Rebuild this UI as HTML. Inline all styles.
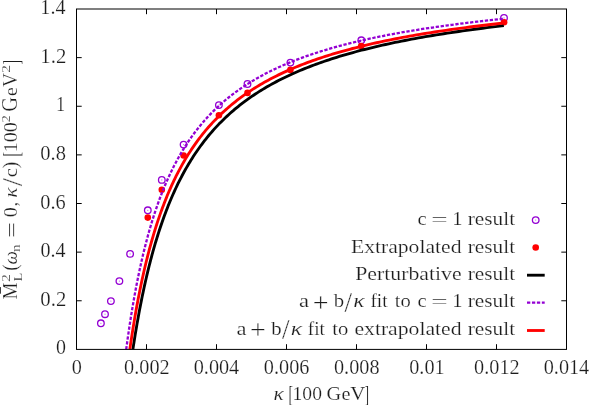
<!DOCTYPE html>
<html><head><meta charset="utf-8"><title>plot</title>
<style>
html,body{margin:0;padding:0;background:#fff;}
body{width:589px;height:405px;overflow:hidden;font-family:"Liberation Serif",serif;}
svg{display:block;will-change:transform;}
</style></head>
<body>
<svg width="589" height="405" viewBox="0 0 589 405">
<rect width="589" height="405" fill="#fff"/>
<g fill="none" stroke="#9400d3" stroke-width="1.3">
<circle cx="100.9" cy="323.3" r="3.3"/>
<circle cx="105.0" cy="314.2" r="3.3"/>
<circle cx="110.9" cy="301.1" r="3.3"/>
<circle cx="119.4" cy="281.1" r="3.3"/>
<circle cx="130.1" cy="253.9" r="3.3"/>
<circle cx="147.8" cy="210.3" r="3.3"/>
<circle cx="161.8" cy="179.9" r="3.3"/>
<circle cx="183.6" cy="144.6" r="3.3"/>
<circle cx="218.9" cy="105.1" r="3.3"/>
<circle cx="247.5" cy="84.0" r="3.3"/>
<circle cx="290.4" cy="62.6" r="3.3"/>
<circle cx="361.3" cy="40.3" r="3.3"/>
<circle cx="504.0" cy="17.9" r="3.3"/>
</g>
<g fill="#9400d3" fill-opacity="0.6">
<circle cx="100.9" cy="323.3" r="0.6"/>
<circle cx="105.0" cy="314.2" r="0.6"/>
<circle cx="110.9" cy="301.1" r="0.6"/>
<circle cx="119.4" cy="281.1" r="0.6"/>
<circle cx="130.1" cy="253.9" r="0.6"/>
<circle cx="147.8" cy="210.3" r="0.6"/>
<circle cx="161.8" cy="179.9" r="0.6"/>
<circle cx="183.6" cy="144.6" r="0.6"/>
<circle cx="218.9" cy="105.1" r="0.6"/>
<circle cx="247.5" cy="84.0" r="0.6"/>
<circle cx="290.4" cy="62.6" r="0.6"/>
<circle cx="361.3" cy="40.3" r="0.6"/>
<circle cx="504.0" cy="17.9" r="0.6"/>
</g>
<g fill="#ff0000">
<circle cx="147.8" cy="217.6" r="3.3"/>
<circle cx="161.8" cy="189.7" r="3.3"/>
<circle cx="183.6" cy="155.5" r="3.3"/>
<circle cx="218.9" cy="115.2" r="3.3"/>
<circle cx="247.5" cy="92.9" r="3.3"/>
<circle cx="290.4" cy="69.9" r="3.3"/>
<circle cx="361.2" cy="46.0" r="3.3"/>
<circle cx="504.1" cy="22.3" r="3.3"/>
</g>
<g fill="none" stroke-linejoin="round">
<path d="M132.89,349.40 L133.46,345.64 L134.04,341.92 L134.63,338.24 L135.22,334.60 L135.82,330.99 L136.42,327.41 L137.03,323.88 L137.65,320.38 L138.27,316.91 L138.90,313.48 L139.53,310.09 L140.18,306.73 L140.82,303.40 L141.48,300.10 L142.14,296.84 L142.81,293.61 L143.48,290.42 L144.16,287.26 L144.85,284.12 L145.55,281.02 L146.25,277.96 L146.96,274.92 L147.68,271.91 L148.40,268.93 L149.13,265.99 L149.87,263.07 L150.62,260.18 L151.38,257.32 L152.14,254.49 L152.91,251.69 L153.68,248.92 L154.47,246.17 L155.26,243.46 L156.07,240.77 L156.88,238.10 L157.69,235.47 L158.52,232.86 L159.35,230.27 L160.20,227.72 L161.05,225.19 L161.91,222.68 L162.78,220.20 L163.66,217.74 L164.55,215.31 L165.44,212.91 L166.35,210.52 L167.26,208.16 L168.18,205.83 L169.12,203.52 L170.06,201.23 L171.01,198.97 L171.97,196.72 L172.95,194.51 L173.93,192.31 L174.92,190.13 L175.92,187.98 L176.93,185.85 L177.96,183.74 L178.99,181.65 L180.03,179.58 L181.09,177.54 L182.15,175.51 L183.22,173.51 L184.31,171.52 L185.41,169.55 L186.52,167.61 L187.64,165.68 L188.77,163.78 L189.91,161.89 L191.06,160.02 L192.23,158.17 L193.41,156.34 L194.60,154.53 L195.80,152.73 L197.02,150.96 L198.24,149.20 L199.48,147.46 L200.73,145.74 L202.00,144.03 L203.27,142.34 L204.56,140.67 L205.87,139.02 L207.18,137.38 L208.51,135.76 L209.86,134.15 L211.22,132.56 L212.59,130.99 L213.97,129.43 L215.37,127.89 L216.78,126.37 L218.21,124.86 L219.65,123.36 L221.11,121.88 L222.58,120.42 L224.07,118.97 L225.57,117.53 L227.09,116.11 L228.62,114.70 L230.17,113.31 L231.74,111.93 L233.32,110.56 L234.91,109.21 L236.52,107.88 L238.15,106.55 L239.80,105.24 L241.46,103.94 L243.14,102.66 L244.83,101.39 L246.55,100.13 L248.28,98.88 L250.03,97.65 L251.79,96.43 L253.58,95.22 L255.38,94.02 L257.20,92.84 L259.04,91.67 L260.90,90.50 L262.77,89.36 L264.67,88.22 L266.59,87.09 L268.52,85.98 L270.47,84.87 L272.45,83.78 L274.44,82.70 L276.46,81.63 L278.49,80.57 L280.55,79.52 L282.63,78.48 L284.72,77.45 L286.84,76.44 L288.98,75.43 L291.15,74.43 L293.33,73.45 L295.54,72.47 L297.77,71.50 L300.02,70.54 L302.29,69.60 L304.59,68.66 L306.91,67.73 L309.26,66.81 L311.63,65.90 L314.02,65.00 L316.44,64.10 L318.88,63.22 L321.35,62.35 L323.84,61.48 L326.36,60.63 L328.90,59.78 L331.47,58.94 L334.06,58.11 L336.69,57.28 L339.33,56.47 L342.01,55.66 L344.71,54.87 L347.44,54.08 L350.20,53.29 L352.99,52.52 L355.80,51.75 L358.64,50.99 L361.51,50.24 L364.41,49.50 L367.35,48.76 L370.31,48.04 L373.30,47.31 L376.32,46.60 L379.37,45.89 L382.45,45.19 L385.56,44.50 L388.71,43.82 L391.89,43.14 L395.10,42.47 L398.34,41.80 L401.62,41.14 L404.93,40.49 L408.27,39.85 L411.65,39.21 L415.06,38.57 L418.50,37.95 L421.98,37.33 L425.50,36.72 L429.05,36.11 L432.64,35.51 L436.26,34.91 L439.93,34.32 L443.63,33.74 L447.36,33.16 L451.14,32.59 L454.95,32.03 L458.80,31.47 L462.69,30.91 L466.62,30.36 L470.59,29.82 L474.61,29.28 L478.66,28.75 L482.75,28.22 L486.89,27.70 L491.06,27.19 L495.28,26.67 L499.54,26.17 L503.85,25.67" stroke="#000000" stroke-width="2.85"/>
<path d="M126.20,349.40 L126.74,345.40 L127.29,341.44 L127.83,337.52 L128.39,333.64 L128.95,329.81 L129.52,326.01 L130.09,322.26 L130.67,318.55 L131.26,314.88 L131.85,311.24 L132.45,307.65 L133.05,304.09 L133.67,300.57 L134.28,297.09 L134.91,293.65 L135.54,290.24 L136.18,286.87 L136.82,283.54 L137.48,280.24 L138.14,276.98 L138.80,273.75 L139.48,270.55 L140.16,267.39 L140.85,264.27 L141.54,261.18 L142.25,258.12 L142.96,255.09 L143.68,252.10 L144.40,249.13 L145.14,246.20 L145.88,243.31 L146.63,240.44 L147.39,237.60 L148.15,234.79 L148.93,232.02 L149.71,229.27 L150.50,226.55 L151.30,223.86 L152.11,221.20 L152.93,218.57 L153.76,215.97 L154.59,213.39 L155.44,210.84 L156.29,208.32 L157.16,205.83 L158.03,203.36 L158.91,200.92 L159.80,198.51 L160.70,196.12 L161.61,193.76 L162.53,191.42 L163.46,189.11 L164.40,186.82 L165.35,184.55 L166.32,182.32 L167.29,180.10 L168.27,177.91 L169.26,175.74 L170.27,173.59 L171.28,171.47 L172.30,169.37 L173.34,167.30 L174.39,165.24 L175.45,163.21 L176.52,161.20 L177.60,159.21 L178.69,157.24 L179.80,155.29 L180.91,153.37 L182.04,151.46 L183.19,149.58 L184.34,147.71 L185.51,145.87 L186.68,144.04 L187.88,142.24 L189.08,140.45 L190.30,138.68 L191.53,136.93 L192.77,135.20 L194.03,133.49 L195.30,131.80 L196.59,130.12 L197.89,128.47 L199.20,126.83 L200.53,125.21 L201.87,123.60 L203.22,122.01 L204.59,120.44 L205.98,118.89 L207.38,117.35 L208.79,115.83 L210.23,114.33 L211.67,112.84 L213.13,111.37 L214.61,109.91 L216.11,108.47 L217.62,107.05 L219.14,105.64 L220.68,104.24 L222.24,102.86 L223.82,101.50 L225.41,100.15 L227.02,98.81 L228.65,97.49 L230.30,96.18 L231.96,94.89 L233.64,93.61 L235.34,92.34 L237.06,91.09 L238.80,89.85 L240.55,88.62 L242.33,87.41 L244.12,86.21 L245.93,85.02 L247.77,83.85 L249.62,82.69 L251.49,81.54 L253.38,80.40 L255.30,79.28 L257.23,78.16 L259.18,77.06 L261.16,75.97 L263.16,74.90 L265.18,73.83 L267.22,72.77 L269.28,71.73 L271.36,70.70 L273.47,69.68 L275.60,68.67 L277.76,67.67 L279.93,66.68 L282.13,65.70 L284.36,64.73 L286.60,63.78 L288.88,62.83 L291.17,61.89 L293.50,60.97 L295.84,60.05 L298.22,59.14 L300.61,58.24 L303.04,57.36 L305.49,56.48 L307.96,55.61 L310.47,54.75 L313.00,53.90 L315.56,53.06 L318.14,52.23 L320.75,51.40 L323.40,50.59 L326.07,49.78 L328.77,48.98 L331.49,48.20 L334.25,47.42 L337.04,46.64 L339.86,45.88 L342.71,45.12 L345.59,44.38 L348.50,43.64 L351.44,42.91 L354.41,42.18 L357.42,41.47 L360.46,40.76 L363.53,40.06 L366.63,39.36 L369.77,38.68 L372.94,38.00 L376.15,37.33 L379.39,36.66 L382.66,36.01 L385.98,35.36 L389.32,34.71 L392.71,34.08 L396.13,33.45 L399.58,32.83 L403.08,32.21 L406.61,31.60 L410.18,31.00 L413.79,30.40 L417.44,29.81 L421.12,29.23 L424.85,28.65 L428.62,28.08 L432.43,27.52 L436.28,26.96 L440.17,26.40 L444.10,25.86 L448.08,25.32 L452.10,24.78 L456.16,24.25 L460.26,23.73 L464.41,23.21 L468.61,22.69 L472.85,22.19 L477.14,21.68 L481.47,21.19 L485.85,20.70 L490.28,20.21 L494.75,19.73 L499.28,19.25 L503.85,18.78" stroke="#9400d3" stroke-width="2.3" stroke-dasharray="3.3 1.65"/>
<path d="M129.84,349.40 L130.39,345.54 L130.96,341.72 L131.53,337.94 L132.10,334.20 L132.68,330.49 L133.27,326.83 L133.87,323.20 L134.47,319.61 L135.07,316.06 L135.68,312.54 L136.30,309.07 L136.93,305.62 L137.56,302.22 L138.20,298.84 L138.85,295.51 L139.50,292.20 L140.16,288.94 L140.82,285.70 L141.49,282.50 L142.17,279.33 L142.86,276.20 L143.56,273.09 L144.26,270.02 L144.97,266.98 L145.68,263.98 L146.41,261.00 L147.14,258.05 L147.88,255.14 L148.62,252.26 L149.38,249.40 L150.14,246.57 L150.91,243.78 L151.69,241.01 L152.47,238.27 L153.27,235.56 L154.07,232.88 L154.88,230.23 L155.70,227.60 L156.53,225.00 L157.37,222.43 L158.21,219.88 L159.07,217.36 L159.93,214.87 L160.80,212.40 L161.69,209.96 L162.58,207.54 L163.48,205.15 L164.39,202.78 L165.31,200.44 L166.24,198.12 L167.17,195.82 L168.12,193.55 L169.08,191.31 L170.05,189.08 L171.03,186.88 L172.02,184.70 L173.01,182.55 L174.02,180.41 L175.04,178.30 L176.08,176.21 L177.12,174.15 L178.17,172.10 L179.23,170.07 L180.31,168.07 L181.39,166.09 L182.49,164.12 L183.60,162.18 L184.72,160.26 L185.85,158.36 L186.99,156.47 L188.15,154.61 L189.32,152.76 L190.50,150.94 L191.69,149.13 L192.89,147.35 L194.11,145.58 L195.34,143.83 L196.59,142.09 L197.84,140.38 L199.11,138.68 L200.39,137.00 L201.69,135.34 L203.00,133.70 L204.32,132.07 L205.66,130.46 L207.01,128.86 L208.37,127.29 L209.75,125.72 L211.15,124.18 L212.56,122.65 L213.98,121.14 L215.42,119.64 L216.87,118.16 L218.34,116.69 L219.82,115.24 L221.32,113.80 L222.83,112.38 L224.37,110.97 L225.91,109.58 L227.47,108.20 L229.05,106.84 L230.65,105.49 L232.26,104.15 L233.89,102.83 L235.54,101.52 L237.20,100.23 L238.88,98.95 L240.58,97.68 L242.30,96.42 L244.03,95.18 L245.78,93.95 L247.55,92.74 L249.34,91.53 L251.15,90.34 L252.98,89.16 L254.82,88.00 L256.69,86.84 L258.57,85.70 L260.48,84.57 L262.40,83.45 L264.34,82.34 L266.31,81.24 L268.29,80.16 L270.30,79.09 L272.33,78.02 L274.38,76.97 L276.45,75.93 L278.54,74.90 L280.65,73.88 L282.78,72.87 L284.94,71.88 L287.12,70.89 L289.33,69.91 L291.55,68.94 L293.80,67.99 L296.07,67.04 L298.37,66.10 L300.69,65.17 L303.04,64.25 L305.41,63.34 L307.80,62.44 L310.22,61.55 L312.66,60.67 L315.13,59.80 L317.63,58.94 L320.15,58.09 L322.70,57.24 L325.27,56.40 L327.88,55.58 L330.51,54.76 L333.16,53.95 L335.85,53.14 L338.56,52.35 L341.30,51.56 L344.07,50.79 L346.87,50.02 L349.70,49.26 L352.55,48.50 L355.44,47.76 L358.36,47.02 L361.31,46.29 L364.29,45.56 L367.30,44.85 L370.34,44.14 L373.41,43.44 L376.52,42.75 L379.65,42.06 L382.82,41.38 L386.03,40.71 L389.27,40.04 L392.54,39.39 L395.84,38.73 L399.18,38.09 L402.56,37.45 L405.97,36.82 L409.41,36.19 L412.90,35.58 L416.41,34.96 L419.97,34.36 L423.56,33.76 L427.19,33.17 L430.86,32.58 L434.57,32.00 L438.31,31.42 L442.10,30.85 L445.92,30.29 L449.78,29.73 L453.69,29.18 L457.63,28.64 L461.62,28.09 L465.65,27.56 L469.72,27.03 L473.83,26.51 L477.99,25.99 L482.19,25.48 L486.43,24.97 L490.72,24.47 L495.05,23.97 L499.43,23.48 L503.85,22.99" stroke="#ff0000" stroke-width="2.85"/>
</g>
<g stroke="#000" stroke-width="1" fill="none">
<rect x="76.5" y="9.0" width="490.0" height="340.4"/>
<path d="M146.50,349.4 v-5.2 M146.50,9.0 v5.2 M216.50,349.4 v-5.2 M216.50,9.0 v5.2 M286.50,349.4 v-5.2 M286.50,9.0 v5.2 M356.50,349.4 v-5.2 M356.50,9.0 v5.2 M426.50,349.4 v-5.2 M426.50,9.0 v5.2 M496.50,349.4 v-5.2 M496.50,9.0 v5.2 M76.5,300.77 h5.2 M566.5,300.77 h-5.2 M76.5,252.14 h5.2 M566.5,252.14 h-5.2 M76.5,203.51 h5.2 M566.5,203.51 h-5.2 M76.5,154.89 h5.2 M566.5,154.89 h-5.2 M76.5,106.26 h5.2 M566.5,106.26 h-5.2 M76.5,57.63 h5.2 M566.5,57.63 h-5.2"/>
</g>
<g font-family="Liberation Serif, serif" font-size="19.5" fill="#1c1c1c" stroke="#fff" stroke-width="0.2" opacity="0.999">
<text transform="translate(55.88,354.40) scale(1.0241,1.0379)">0</text>
<text transform="translate(40.35,305.77) scale(1.0664,1.0379)">0.2</text>
<text transform="translate(40.38,257.14) scale(1.0299,1.0379)">0.4</text>
<text transform="translate(40.37,208.51) scale(1.0433,1.0379)">0.6</text>
<text transform="translate(40.36,159.89) scale(1.0524,1.0379)">0.8</text>
<text transform="translate(56.00,111.26) scale(0.9420,1.0379)">1</text>
<text transform="translate(40.28,62.63) scale(1.0694,1.0379)">1.2</text>
<text transform="translate(40.35,14.00) scale(1.0312,1.0379)">1.4</text>
<text transform="translate(71.67,373.50) scale(1.0380,1.0379)">0</text>
<text transform="translate(124.12,373.50) scale(1.0380,1.0379)">0.002</text>
<text transform="translate(193.71,373.50) scale(1.0380,1.0379)">0.004</text>
<text transform="translate(263.86,373.50) scale(1.0380,1.0379)">0.006</text>
<text transform="translate(333.97,373.50) scale(1.0380,1.0379)">0.008</text>
<text transform="translate(409.21,373.50) scale(1.0380,1.0379)">0.01</text>
<text transform="translate(474.12,373.50) scale(1.0380,1.0379)">0.012</text>
<text transform="translate(543.71,373.50) scale(1.0380,1.0379)">0.014</text>
<text transform="translate(467.76,225.10) scale(1.0935,1.0000)">result</text>
<text transform="translate(467.76,252.55) scale(1.0935,1.0000)">result</text>
<text transform="translate(467.76,280.00) scale(1.0935,1.0000)">result</text>
<text transform="translate(467.76,307.45) scale(1.0935,1.0000)">result</text>
<text transform="translate(467.76,334.90) scale(1.0935,1.0000)">result</text>
<text transform="translate(417.56,225.10) scale(1.0541,1.0000)">c</text>
<text transform="translate(431.26,225.84) scale(1.4891,0.9592)">=</text>
<text transform="translate(452.20,225.10) scale(1.0580,1.0000)">1</text>
<text transform="translate(350.94,252.55) scale(1.1102,1.0000)">Extrapolated</text>
<text transform="translate(355.14,280.00) scale(1.1180,1.0000)">Perturbative</text>
<text transform="translate(298.99,307.45) scale(1.1558,1.0000)">a</text>
<text transform="translate(312.71,311.67) scale(1.4348,1.3804)">+</text>
<text transform="translate(333.80,307.45) scale(1.0667,1.0000)">b</text>
<text transform="translate(344.60,311.85) scale(1.3889,1.5191)">/</text>
<text transform="translate(353.35,307.45) scale(1.2135,1.0000)" font-style="italic">κ</text>
<text transform="translate(370.41,307.45) scale(0.9880,1.0000)">fit</text>
<text transform="translate(394.79,307.45) scale(1.0563,1.0000)">to</text>
<text transform="translate(417.56,307.45) scale(1.0541,1.0000)">c</text>
<text transform="translate(431.26,308.19) scale(1.4891,0.9592)">=</text>
<text transform="translate(452.20,307.45) scale(1.0580,1.0000)">1</text>
<text transform="translate(236.39,334.90) scale(1.1558,1.0000)">a</text>
<text transform="translate(250.11,339.12) scale(1.4348,1.3804)">+</text>
<text transform="translate(271.20,334.90) scale(1.0667,1.0000)">b</text>
<text transform="translate(282.00,339.30) scale(1.3889,1.5191)">/</text>
<text transform="translate(290.75,334.90) scale(1.2135,1.0000)" font-style="italic">κ</text>
<text transform="translate(307.81,334.90) scale(0.9880,1.0000)">fit</text>
<text transform="translate(332.19,334.90) scale(1.0563,1.0000)">to</text>
<text transform="translate(354.42,334.90) scale(1.1122,1.0000)">extrapolated</text>
<text transform="translate(273.53,400.30) scale(1.1011,1.0000)" font-style="italic">κ</text>
<text transform="translate(288.61,401.79) scale(0.7045,1.2360)">[</text>
<text transform="translate(292.59,400.30) scale(1.0037,1.0000)">100</text>
<text transform="translate(326.57,400.30) scale(1.0394,1.0000)">G</text>
<text transform="translate(341.47,400.30) scale(1.0411,1.0000)">e</text>
<text transform="translate(350.19,400.30) scale(1.0657,1.0000)">V</text>
<text transform="translate(364.51,401.79) scale(0.7045,1.2360)">]</text>
</g>
<circle cx="535.7" cy="220.1" r="3.3" fill="none" stroke="#9400d3" stroke-width="1.3"/>
<circle cx="535.7" cy="220.1" r="0.6" fill="#9400d3" fill-opacity="0.6"/>
<circle cx="535.7" cy="247.5" r="3.3" fill="#ff0000"/>
<path d="M527.0,275.2 H544.7" stroke="#000000" stroke-width="2.85"/>
<path d="M527.0,302.7 H544.7" stroke="#9400d3" stroke-width="2.3" stroke-dasharray="3.3 1.65"/>
<path d="M527.0,330.5 H544.7" stroke="#ff0000" stroke-width="2.85"/>
<g opacity="0.999"><g transform="translate(17.2,305) rotate(-90)" font-family="Liberation Serif, serif" font-size="19.5" fill="#1c1c1c" stroke="#fff" stroke-width="0.2">
<text transform="translate(5.41,0.00) scale(0.9816,1.0859)">M</text>
<path d="M11.3,-16.75 H17.9" stroke="#1c1c1c" stroke-width="0.9"/>
<text transform="translate(23.00,-7.00) scale(1.1667,1.0000)" font-size="13.5">2</text>
<text transform="translate(23.47,4.70) scale(1.0704,1.0000)" font-size="13.5">L</text>
<text transform="translate(34.30,-0.02) scale(1.0000,1.1243)">(</text>
<text transform="translate(40.41,0.00) scale(0.9756,1.0000)" font-style="italic">ω</text>
<text transform="translate(52.96,2.90) scale(1.1270,1.0000)" font-size="13.5">n</text>
<text transform="translate(66.91,1.66) scale(1.4348,1.0408)">=</text>
<text transform="translate(87.77,0.00) scale(1.0361,1.0000)">0</text>
<text transform="translate(98.82,0.00) scale(0.8333,1.0000)">,</text>
<text transform="translate(107.32,0.00) scale(1.1124,1.0000)" font-style="italic">κ</text>
<text transform="translate(118.80,4.40) scale(1.5185,1.5191)">/</text>
<text transform="translate(127.76,0.00) scale(1.0541,1.0000)">c</text>
<text transform="translate(136.46,-0.02) scale(1.0588,1.1243)">)</text>
<text transform="translate(148.25,1.49) scale(0.7500,1.2360)">[</text>
<text transform="translate(152.64,0.00) scale(1.0336,1.0000)">100</text>
<text transform="translate(182.46,-7.00) scale(1.0741,1.0000)" font-size="13.5">2</text>
<text transform="translate(193.36,0.27) scale(1.0472,1.1298)">G</text>
<text transform="translate(208.99,0.00) scale(1.0137,1.0000)">e</text>
<text transform="translate(217.90,-0.03) scale(0.9854,1.0840)">V</text>
<text transform="translate(232.21,-7.00) scale(1.1481,1.0000)" font-size="13.5">2</text>
<text transform="translate(240.51,1.49) scale(0.7045,1.2360)">]</text>
</g></g>
</svg>
</body></html>
